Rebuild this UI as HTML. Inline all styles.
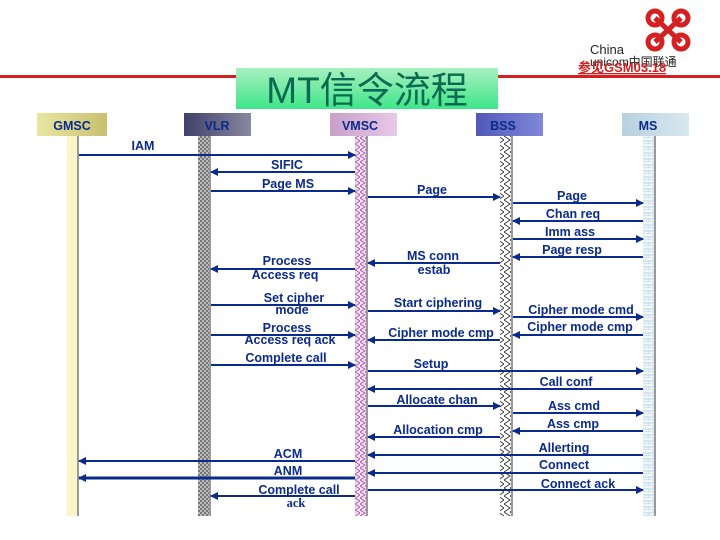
<!DOCTYPE html>
<html><head><meta charset="utf-8"><style>
body{margin:0;background:#fff}
svg{display:block}
text{font-family:"Liberation Sans","Noto Sans CJK SC",sans-serif;font-weight:bold;fill:#0a2a8c;font-size:12.5px}
</style></head><body>
<svg width="720" height="540" viewBox="0 0 720 540">
<defs>
<linearGradient id="tg" x1="0" y1="0" x2="0" y2="1"><stop offset="0" stop-color="#a8f0c0"/><stop offset="1" stop-color="#3ee68a"/></linearGradient>
<linearGradient id="g1" x1="0" y1="0" x2="1" y2="0"><stop offset="0" stop-color="#e8e6a0"/><stop offset="1" stop-color="#c8c070"/></linearGradient>
<linearGradient id="g2" x1="0" y1="0" x2="1" y2="0"><stop offset="0" stop-color="#40406a"/><stop offset="1" stop-color="#8888a0"/></linearGradient>
<linearGradient id="g3" x1="0" y1="0" x2="1" y2="0"><stop offset="0" stop-color="#c8a0c8"/><stop offset="1" stop-color="#e8c8e8"/></linearGradient>
<linearGradient id="g4" x1="0" y1="0" x2="1" y2="0"><stop offset="0" stop-color="#5058b8"/><stop offset="1" stop-color="#8088d8"/></linearGradient>
<linearGradient id="g5" x1="0" y1="0" x2="1" y2="0"><stop offset="0" stop-color="#b8d0e0"/><stop offset="1" stop-color="#d8e8f0"/></linearGradient>
<pattern id="chk" width="4" height="4" patternUnits="userSpaceOnUse"><rect width="4" height="4" fill="#bbb"/><rect width="2" height="2" fill="#777"/><rect x="2" y="2" width="2" height="2" fill="#777"/></pattern>
<pattern id="zz" width="10" height="6" patternUnits="userSpaceOnUse"><rect width="10" height="6" fill="#f4e4f4"/><path d="M0 0 L5 3 L0 6 M5 0 L10 3 L5 6" stroke="#b060b0" fill="none" stroke-width="1"/></pattern>
<pattern id="zb" width="12" height="8" patternUnits="userSpaceOnUse"><rect width="12" height="8" fill="#fff"/><path d="M0 0 L6 4 L0 8 M6 0 L12 4 L6 8" stroke="#444" fill="none" stroke-width="1"/></pattern>
<pattern id="br" width="12" height="6" patternUnits="userSpaceOnUse"><rect width="12" height="6" fill="#eef6fb"/><path d="M0 6 H12 M6 0 V3 M0 3 H12 M0 3 V6" stroke="#bcd6e6" stroke-width="1" fill="none"/></pattern>
<marker id="a" markerWidth="8" markerHeight="8" refX="7" refY="4" orient="auto" markerUnits="userSpaceOnUse"><path d="M0 0 L8 4 L0 8 Z" fill="#0a2a8c"/></marker>
</defs>
<rect x="0" y="75" width="720" height="3" fill="#d42020"/>
<g fill="none" stroke="#d42020" stroke-width="5">
<circle cx="655" cy="18" r="7"/><circle cx="681" cy="18" r="7"/><circle cx="655" cy="42" r="7"/><circle cx="681" cy="42" r="7"/>
<path d="M655 18 L681 42 M681 18 L655 42"/></g>
<text x="590" y="54" style="fill:#222;font-size:13px;font-weight:normal">China</text>
<text x="590" y="66" style="fill:#222;font-size:12px;font-weight:normal">unicom中国联通</text>
<text x="578" y="72" style="fill:#d42020;font-size:13px;text-decoration:underline">参见GSM03.18</text>
<rect x="236" y="68" width="262" height="41" fill="url(#tg)"/>
<text x="367" y="103" text-anchor="middle" style="fill:#0a6a50;font-size:37px;font-weight:normal">MT信令流程</text>
<rect x="37" y="113" width="70" height="23" fill="url(#g1)"/><text x="72" y="130" text-anchor="middle">GMSC</text>
<rect x="184" y="113" width="67" height="23" fill="url(#g2)"/><text x="217" y="130" text-anchor="middle">VLR</text>
<rect x="330" y="113" width="67" height="23" fill="url(#g3)"/><text x="360" y="130" text-anchor="middle">VMSC</text>
<rect x="476" y="113" width="67" height="23" fill="url(#g4)"/><text x="503" y="130" text-anchor="middle">BSS</text>
<rect x="622" y="113" width="67" height="23" fill="url(#g5)"/><text x="648" y="130" text-anchor="middle">MS</text>
<rect x="67" y="136" width="10" height="380" fill="#fbf6c8"/><rect x="77" y="136" width="2" height="380" fill="#999"/>
<rect x="198" y="136" width="11" height="380" fill="url(#chk)"/><rect x="209" y="136" width="2" height="380" fill="#999"/>
<rect x="355" y="136" width="11" height="380" fill="url(#zz)"/><rect x="366" y="136" width="2" height="380" fill="#999"/>
<rect x="500" y="136" width="11" height="380" fill="url(#zb)"/><rect x="511" y="136" width="2" height="380" fill="#999"/>
<rect x="643" y="136" width="11" height="380" fill="url(#br)"/><rect x="654" y="136" width="2" height="380" fill="#999"/>
<g stroke="#0a2a8c" stroke-width="2" marker-end="url(#a)">
<line x1="79" y1="155" x2="355" y2="155"/>
<line x1="355" y1="172" x2="211" y2="172"/>
<line x1="211" y1="191" x2="355" y2="191"/>
<line x1="368" y1="197" x2="500" y2="197"/>
<line x1="513" y1="203" x2="643" y2="203"/>
<line x1="643" y1="221" x2="513" y2="221"/>
<line x1="513" y1="239" x2="643" y2="239"/>
<line x1="643" y1="257" x2="513" y2="257"/>
<line x1="500" y1="263" x2="368" y2="263"/>
<line x1="355" y1="269" x2="211" y2="269"/>
<line x1="211" y1="305" x2="355" y2="305"/>
<line x1="368" y1="311" x2="500" y2="311"/>
<line x1="513" y1="317" x2="643" y2="317"/>
<line x1="211" y1="335" x2="355" y2="335"/>
<line x1="643" y1="335" x2="513" y2="335"/>
<line x1="500" y1="340" x2="368" y2="340"/>
<line x1="211" y1="365" x2="355" y2="365"/>
<line x1="368" y1="371" x2="643" y2="371"/>
<line x1="643" y1="389" x2="368" y2="389"/>
<line x1="368" y1="406" x2="500" y2="406"/>
<line x1="513" y1="413" x2="643" y2="413"/>
<line x1="643" y1="431" x2="513" y2="431"/>
<line x1="500" y1="437" x2="368" y2="437"/>
<line x1="643" y1="455" x2="368" y2="455"/>
<line x1="355" y1="461" x2="79" y2="461"/>
<line x1="643" y1="473" x2="368" y2="473"/>
<line x1="355" y1="478" x2="79" y2="478" stroke-width="3"/>
<line x1="368" y1="490" x2="643" y2="490"/>
<line x1="355" y1="496" x2="211" y2="496"/>
</g>
<g text-anchor="middle">
<text x="143" y="150">IAM</text>
<text x="287" y="169">SIFIC</text>
<text x="288" y="188">Page MS</text>
<text x="432" y="194">Page</text>
<text x="572" y="200">Page</text>
<text x="573" y="218">Chan req</text>
<text x="570" y="236">Imm ass</text>
<text x="572" y="254">Page resp</text>
<text x="433" y="260">MS conn</text>
<text x="434" y="274">estab</text>
<text x="287" y="265">Process</text>
<text x="285" y="279">Access req</text>
<text x="294" y="302">Set cipher</text>
<text x="292" y="314">mode</text>
<text x="438" y="307">Start ciphering</text>
<text x="581" y="314">Cipher mode cmd</text>
<text x="287" y="332">Process</text>
<text x="290" y="344">Access req ack</text>
<text x="580" y="331">Cipher mode cmp</text>
<text x="441" y="337">Cipher mode cmp</text>
<text x="286" y="362">Complete call</text>
<text x="431" y="368">Setup</text>
<text x="566" y="386">Call conf</text>
<text x="437" y="404">Allocate chan</text>
<text x="574" y="410">Ass cmd</text>
<text x="438" y="434">Allocation cmp</text>
<text x="573" y="428">Ass cmp</text>
<text x="564" y="452">Allerting</text>
<text x="288" y="458">ACM</text>
<text x="564" y="469">Connect</text>
<text x="288" y="475">ANM</text>
<text x="578" y="488">Connect ack</text>
<text x="299" y="494">Complete call</text>
<text x="296" y="507" style="font-family:'Liberation Serif',serif">ack</text>
</g>
</svg>
</body></html>
